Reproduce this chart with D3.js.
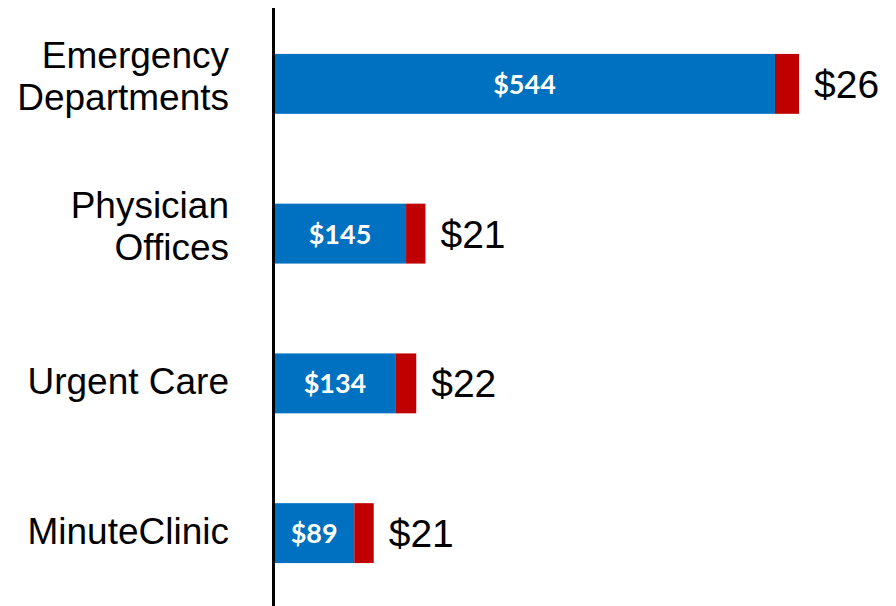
<!DOCTYPE html>
<html>
<head>
<meta charset="utf-8">
<script src="https://cdn.jsdelivr.net/npm/d3@7"></script>
<style>
  body { margin: 0; background: #fff; }
  #bars { display: block; }
</style>
</head>
<body>
<svg id="bars" width="896" height="606"></svg>
<script>
var categories = [["Emergency", "Departments"], ["Physician", "Offices"], ["Urgent Care"], ["MinuteClinic"]];
var baseCost = [544, 145, 134, 89];
var extraCost = [26, 21, 22, 21];

var svg = d3.select("#bars");
var svgWidth = 896, svgHeight = 606;
var axisX = 272;
var blue = "#0070C0", red = "#C00000";

var xScale = d3.scaleLinear()
  .domain([0, 570])
  .range([axisX, 799]);

var yScale = d3.scaleBand()
  .domain(d3.range(categories.length))
  .range([9, 608])
  .paddingInner(0.6)
  .paddingOuter(0.3);

function money(v){ return "$" + v; }

function drawChart(){
  var rows = svg.selectAll("g.row")
    .data(categories)
    .enter().append("g")
    .attr("class", "row");

  // blue part
  rows.append("rect")
    .attr("x", xScale(0))
    .attr("y", function(d, i){ return yScale(i); })
    .attr("width", function(d, i){ return xScale(baseCost[i]) - xScale(0); })
    .attr("height", yScale.bandwidth())
    .attr("fill", blue);

  // red part on top
  rows.append("rect")
    .attr("x", function(d, i){ return xScale(baseCost[i]); })
    .attr("y", function(d, i){ return yScale(i); })
    .attr("width", function(d, i){ return xScale(baseCost[i] + extraCost[i]) - xScale(baseCost[i]); })
    .attr("height", yScale.bandwidth())
    .attr("fill", red);

  // inner labels
  rows.append("text")
    .attr("x", function(d, i){ return (xScale(0) + xScale(baseCost[i])) / 2 + 1; })
    .attr("y", function(d, i){ return yScale(i) + yScale.bandwidth()/2 + 10; })
    .attr("text-anchor", "middle")
    .style("font-family", "Lato, sans-serif")
    .style("font-weight", "bold")
    .style("font-size", "27px")
    .attr("fill", "#fff")
    .text(function(d, i){ return money(baseCost[i]); });

  // outside labels
  rows.append("text")
    .attr("x", function(d, i){ return xScale(baseCost[i] + extraCost[i]) + 15; })
    .attr("y", function(d, i){ return yScale(i) + yScale.bandwidth()/2 + 14; })
    .style("font-family", "'Liberation Sans', Arial, sans-serif")
    .style("font-size", "39px")
    .attr("fill", "#000")
    .text(function(d, i){ return money(extraCost[i]); });

  // category names, right aligned
  rows.append("text")
    .attr("text-anchor", "end")
    .style("font-family", "'Liberation Sans', Arial, sans-serif")
    .style("font-size", "37px")
    .attr("fill", "#000")
    .each(function(d, i){
      var mid = yScale(i) + yScale.bandwidth()/2;
      var first = mid + 11 - (d.length - 1) * 27;
      d3.select(this).selectAll("tspan")
        .data(d)
        .enter().append("tspan")
        .attr("x", 229)
        .attr("y", function(t, j){ return first + j * 42.5; })
        .text(function(t){ return t; });
    });

  //vertical axis line
  svg.append("line")
    .attr("x1", axisX + 1.5)
    .attr("x2", axisX + 1.5)
    .attr("y1", 8)
    .attr("y2", svgHeight)
    .attr("stroke", "#000")
    .attr("stroke-width", 3);
}

drawChart();
</script>
</body>
</html>
